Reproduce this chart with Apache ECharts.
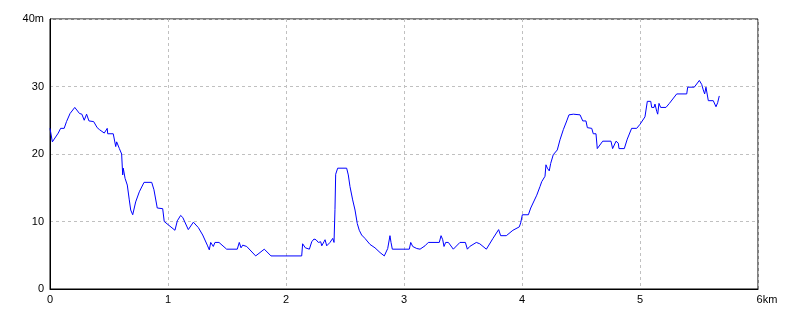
<!DOCTYPE html>
<html>
<head>
<meta charset="utf-8">
<script src="https://cdn.jsdelivr.net/npm/echarts@6/dist/echarts.min.js"></script>
<style>
html,body{margin:0;padding:0;background:#fff;}
#chart{width:800px;height:320px;}
</style>
</head>
<body>
<div id="chart"></div>
<script>
// distance (km)
var distKm = [
0.00,0.02,0.07,0.09,0.12,0.14,0.17,0.21,0.25,0.27,0.29,0.31,0.33,0.37,0.40,0.42,0.46,0.485,0.489,0.536,
0.557,0.565,0.588,0.607,0.616,0.621,0.636,0.655,0.672,0.684,0.701,0.726,0.757,0.797,0.862,0.881,0.909,0.955,0.968,1.003,
1.059,1.079,1.107,1.125,1.172,1.215,1.257,1.294,1.333,1.350,1.362,1.384,1.398,1.432,1.497,1.587,1.604,1.619,1.633,1.667,
1.743,1.816,1.873,2.133,2.141,2.153,2.164,2.198,2.218,2.237,2.254,2.274,2.294,2.303,2.322,2.331,2.345,2.373,2.396,2.407,
2.415,2.421,2.438,2.514,2.528,2.542,2.565,2.585,2.604,2.621,2.641,2.669,2.712,2.754,2.797,2.833,2.862,2.881,2.890,2.901,
3.045,3.057,3.074,3.108,3.136,3.178,3.206,3.299,3.314,3.328,3.339,3.353,3.376,3.418,3.474,3.520,3.537,3.557,3.613,3.642,
3.698,3.754,3.802,3.819,3.867,3.923,3.977,3.989,4.003,4.054,4.074,4.125,4.153,4.167,4.195,4.203,4.215,4.231,4.243,4.265,
4.299,4.322,4.350,4.379,4.398,4.435,4.443,4.449,4.492,4.515,4.542,4.554,4.591,4.604,4.627,4.638,4.684,4.754,4.768,4.797,
4.816,4.822,4.867,4.892,4.929,4.972,5.000,5.042,5.062,5.091,5.099,5.119,5.127,5.142,5.150,5.161,5.175,5.220,5.249,5.311,
5.396,5.404,5.460,5.503,5.523,5.536,5.548,5.559,5.579,5.621,5.644,5.658,5.672
];
// elevation (m)
var elevM = [
23.8,21.8,23.1,23.8,23.8,24.8,26.0,26.9,26.0,25.9,25.0,25.9,24.9,24.8,23.9,23.6,23.1,23.8,23.0,23.0,
21.1,21.8,20.8,20.0,16.9,17.9,16.4,15.4,13.2,11.7,11.0,12.9,14.4,15.8,15.8,14.7,12.0,11.9,10.0,9.5,
8.7,10.1,10.9,10.6,8.8,9.9,9.1,8.0,6.5,5.8,6.9,6.3,6.9,6.9,5.9,5.9,6.9,6.1,6.5,6.3,
4.9,5.9,4.9,4.9,6.7,6.9,6.1,5.9,7.0,7.4,7.3,6.9,7.0,6.4,7.0,7.3,6.4,6.9,7.5,6.9,
11.8,17.0,17.9,17.9,16.9,15.2,13.2,11.7,9.7,8.7,8.0,7.5,6.6,6.1,5.4,4.9,6.0,7.9,6.9,5.9,
5.9,6.9,6.3,6.0,5.9,6.4,6.9,6.9,7.9,7.3,6.3,6.9,6.9,5.9,6.9,6.9,5.9,6.3,6.9,6.7,
5.9,7.5,8.8,7.9,7.9,8.7,9.2,9.8,11.0,11.0,12.0,13.9,15.2,15.9,16.7,18.4,17.9,17.5,18.6,19.9,
20.6,22.1,23.6,24.9,25.8,25.9,26.1,25.9,25.8,24.9,24.9,23.9,23.8,23.0,23.0,20.8,21.9,21.9,20.8,21.9,
21.6,20.8,20.8,22.2,23.8,23.8,24.4,25.5,27.8,27.8,26.9,26.9,27.4,26.3,25.9,27.5,26.9,26.9,27.5,28.9,
28.9,29.9,29.9,30.9,30.3,29.5,28.9,29.9,27.9,27.9,27.0,27.6,28.6
];
var xTickUnit = 'km';
var yTickUnit = 'm';

var data = distKm.map(function(d,i){ return [d, elevM[i]]; });

var chart = echarts.init(document.getElementById('chart'), null, {renderer:'canvas'});
var fontFam = '"Liberation Sans", Arial, sans-serif';
chart.setOption({
  animation:false,
  backgroundColor:'#ffffff',
  grid:{left:50,right:42,top:19,bottom:31,show:true,borderColor:'#000',borderWidth:1,backgroundColor:'transparent'},
  xAxis:{
    type:'value',min:0,max:6,interval:1,
    axisLine:{show:true,lineStyle:{color:'#000',width:1}},
    axisTick:{show:false},
    splitLine:{show:true,lineStyle:{color:'#c0c0c0',type:[3,3],width:1}},
    axisLabel:{
      color:'#000',fontSize:11,fontFamily:fontFam,margin:5,
      formatter:function(v){ return v===6 ? '{u|6' + xTickUnit + '}' : String(v); },
      rich:{u:{color:'#000',fontSize:11,fontFamily:fontFam,padding:[0,0,0,18]}}
    }
  },
  yAxis:{
    type:'value',min:0,max:40,interval:10,
    axisLine:{show:true,lineStyle:{color:'#000',width:1}},
    axisTick:{show:false},
    splitLine:{show:true,lineStyle:{color:'#c0c0c0',type:[3,3],width:1}},
    axisLabel:{
      color:'#000',fontSize:11,fontFamily:fontFam,margin:6,
      formatter:function(v){ return v===40 ? '40' + yTickUnit : String(v); }
    }
  },
  series:[{
    type:'line',data:data,showSymbol:false,symbol:'none',
    lineStyle:{color:'#0000ff',width:1},
    smooth:false
  }]
});
</script>
</body>
</html>
